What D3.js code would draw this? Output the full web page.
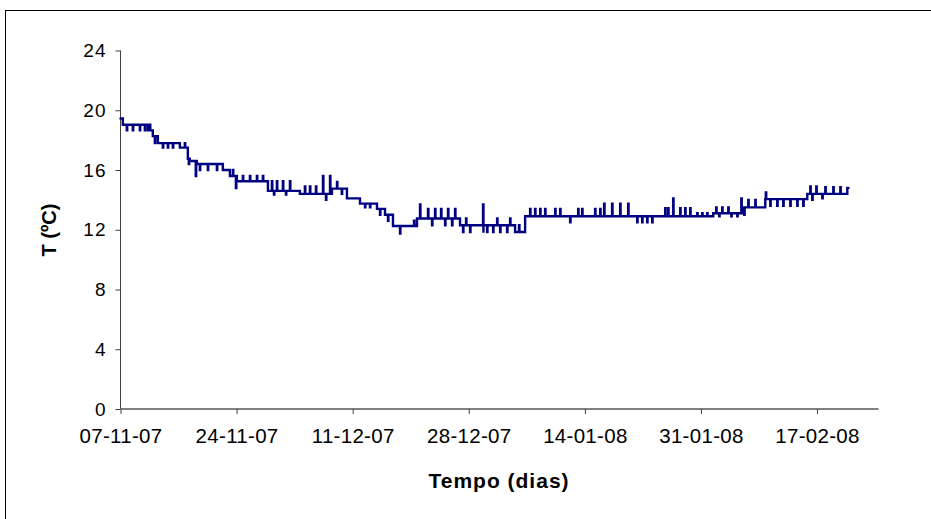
<!DOCTYPE html>
<html>
<head>
<meta charset="utf-8">
<script src="https://cdn.jsdelivr.net/npm/d3@7"></script>
<style>
  html, body { margin: 0; padding: 0; background: #fff; }
  svg { display: block; font-family: "Liberation Sans", Arial, sans-serif; }
</style>
</head>
<body>
<svg id="chart" width="931" height="519"></svg>
<script>
// ---- data ----
const startDate = Date.UTC(2007, 10, 7); // 07-11-07
const xTickDays = [0, 17, 34, 51, 68, 85, 102];
const yTicks = [0, 4, 8, 12, 16, 20, 24];
const xTitle = "Tempo (dias)";
const yTitle = "T (ºC)";

// temperature plateaus: [day since start, T]
const levels = [
  [0, 19.45], [0.34, 19.03], [4.0, 18.65], [4.73, 18.27], [5.47, 17.8],
  [8.69, 17.5], [9.86, 16.75], [10.15, 16.6], [11.18, 16.4], [14.99, 16.0],
  [16.02, 15.6], [17.04, 15.25], [21.59, 14.6], [26.27, 14.4], [30.96, 14.75],
  [33.16, 14.1], [35.07, 13.75], [37.56, 13.4], [38.73, 13.0], [39.9, 12.25],
  [43.42, 12.75], [49.72, 12.3], [57.78, 11.85], [59.25, 12.9], [86.8, 13.1],
  [91.19, 13.5], [94.42, 14.05], [100.57, 14.4], [106.43, 14.8], [106.6, 14.8]
];

// single-reading excursions: [day since start, T]
const spikes = [
  [0.92, 18.65], [1.80, 18.65], [2.83, 18.65], [3.56, 18.65], [4.3, 19.03],
  [5.03, 17.8], [6.20, 17.5], [6.93, 17.5], [7.66, 17.5], [9.42, 17.8],
  [10.0, 16.4], [11.02, 15.6], [11.62, 16.0], [12.79, 16.0], [14.11, 16.0],
  [16.46, 16.0], [16.9, 14.8], [17.92, 15.6], [18.95, 15.6], [19.97, 15.6], [20.85, 15.6],
  [22.17, 15.25], [22.47, 14.35], [22.9, 15.25], [23.78, 15.25], [24.22, 14.35], [24.81, 15.25],
  [27.0, 14.9], [27.74, 14.9], [28.62, 14.9], [29.65, 15.6], [30.09, 14.0], [30.68, 15.6],
  [31.7, 15.2], [32.4, 14.4], [35.8, 13.5], [36.53, 13.5], [38.0, 13.0], [39.17, 12.6],
  [40.93, 11.75], [42.98, 12.6], [43.86, 13.7], [45.03, 13.4], [45.62, 12.3], [46.06, 13.4],
  [46.94, 13.4], [47.53, 12.3], [47.96, 13.4], [48.55, 12.3], [48.99, 13.4],
  [50.16, 11.85], [50.6, 12.75], [51.19, 11.85], [53.09, 13.7], [53.15, 11.8], [53.68, 11.85],
  [54.56, 11.85], [55.15, 12.75], [55.59, 11.85], [56.61, 11.85], [57.05, 12.75], [58.36, 12.3],
  [59.98, 13.4], [60.71, 13.4], [61.45, 13.4], [62.18, 13.4], [63.65, 13.4], [64.38, 13.4],
  [65.84, 12.5], [67.02, 13.4], [67.6, 13.4], [69.5, 13.4], [70.24, 13.4], [70.82, 13.75],
  [71.99, 13.75], [73.17, 13.75], [74.34, 13.75], [75.66, 12.5], [76.39, 12.5], [77.12, 12.5],
  [77.86, 12.5], [79.76, 13.45], [80.2, 13.45], [80.93, 14.1], [81.96, 13.45], [82.69, 13.45],
  [83.42, 13.45], [84.45, 13.1], [85.18, 13.1], [85.91, 13.1], [87.23, 13.5], [87.67, 12.9],
  [88.11, 13.5], [89.0, 13.5], [89.44, 12.9], [90.32, 12.9], [90.91, 14.1], [91.34, 13.0],
  [91.93, 14.0], [92.96, 14.0], [94.5, 14.5], [95.15, 13.6], [96.17, 13.6], [97.05, 13.6],
  [98.08, 13.6], [99.1, 13.6], [99.98, 13.6], [101.01, 14.9], [101.3, 14.0], [101.89, 14.9],
  [102.77, 14.1], [103.21, 14.85], [104.38, 14.85], [105.41, 14.85]
];

// ---- build readings series ----
const DAY = 86400000;
function levelAt(d) {
  let v = levels[0][1];
  for (const [ld, lv] of levels) { if (ld <= d) v = lv; else break; }
  return v;
}
const readings = levels.map(([d, t]) => [d, t]);
spikes.forEach(([d, t]) => {
  const base = levelAt(d);
  readings.push([d, t]);
  readings.push([d + 0.06, base]);
});
readings.sort((a, b) => a[0] - b[0]);

// ---- chart ----
const svg = d3.select("#chart");

svg.append("rect")
  .attr("x", 5.5).attr("y", 10.5)
  .attr("width", 1000).attr("height", 1000)
  .attr("fill", "none").attr("stroke", "#000").attr("stroke-width", 1);

const x = d3.scaleUtc()
  .domain([new Date(startDate), new Date(startDate + 111 * DAY)])
  .range([120.5, 878.5]);
const y = d3.scaleLinear().domain([0, 24]).range([409, 50.5]);

const fmt = d3.utcFormat("%d-%m-%y");

// y axis
const yAxis = svg.append("g")
  .attr("transform", "translate(120.5,0)")
  .call(d3.axisLeft(y).tickValues(yTicks).tickSize(5).tickPadding(9).tickFormat(d3.format("d")));
yAxis.select(".domain").attr("stroke", "#404040").attr("d", `M0,${y(24)}V${y(0)}`);
yAxis.selectAll(".tick line").attr("stroke", "#404040");
yAxis.selectAll(".tick text")
  .attr("font-family", "'Liberation Sans', Arial, sans-serif")
  .attr("font-size", 19).attr("letter-spacing", 1).attr("fill", "#000");

// x axis
const xAxis = svg.append("g")
  .attr("transform", `translate(0,${y(0)})`)
  .call(d3.axisBottom(x)
    .tickValues(xTickDays.map(d => new Date(startDate + d * DAY)))
    .tickSize(5).tickPadding(14).tickFormat(fmt));
xAxis.select(".domain").attr("stroke", "#808080").attr("stroke-width", 2)
  .attr("d", `M${x.range()[0]},0H${x.range()[1]}`);
xAxis.selectAll(".tick line").attr("stroke", "#404040");
xAxis.selectAll(".tick text")
  .attr("font-family", "'Liberation Sans', Arial, sans-serif")
  .attr("font-size", 20.5).attr("letter-spacing", 0.3).attr("fill", "#000");

// line
const line = d3.line()
  .x(d => x(new Date(startDate + d[0] * DAY)))
  .y(d => y(d[1]))
  .curve(d3.curveStepAfter);

svg.append("path")
  .datum(readings)
  .attr("fill", "none")
  .attr("stroke", "#000080")
  .attr("stroke-width", 2.4)
  .attr("stroke-linecap", "round")
  .attr("d", line);

// titles
svg.append("text")
  .attr("x", 499).attr("y", 488)
  .attr("text-anchor", "middle")
  .attr("font-size", 21).attr("font-weight", "bold")
  .attr("letter-spacing", 1)
  .text(xTitle);

svg.append("text")
  .attr("transform", "translate(56,230) rotate(-90)")
  .attr("text-anchor", "middle")
  .attr("font-size", 20).attr("font-weight", "bold")
  .text(yTitle);
</script>
</body>
</html>
